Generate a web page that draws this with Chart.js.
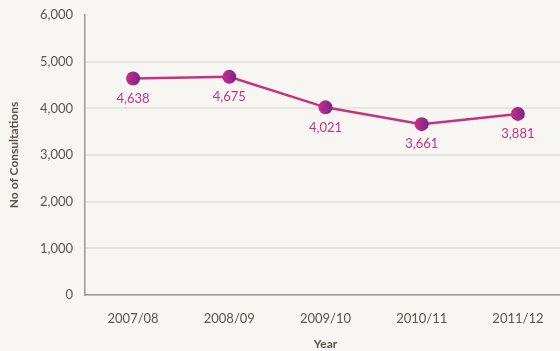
<!DOCTYPE html>
<html>
<head>
<meta charset="utf-8">
<script src="https://cdn.jsdelivr.net/npm/chart.js@4/dist/chart.umd.min.js"></script>
<style>
  html, body { margin: 0; padding: 0; background: #f7f6f2; overflow: hidden; }
  #wrap { width: 573px; height: 351px; }
</style>
</head>
<body>
<div id="wrap"><canvas id="consultChart" width="573" height="351"></canvas></div>
<script>
const years = ['2007/08', '2008/09', '2009/10', '2010/11', '2011/12'];
const consultations = [4638, 4675, 4021, 3661, 3881];
const yTicks = [0, 1000, 2000, 3000, 4000, 5000, 6000];

const lineColor = '#c7327f';
const textColor = '#5b5650';

// point fill: magenta on the left fading into purple on the right
function pointFill(ctx) {
    const chart = ctx.chart;
    const xs = chart.scales.x;
    if (!xs || ctx.dataIndex === undefined) return lineColor;
    const px = xs.getPixelForValue(ctx.dataIndex);
    if (!isFinite(px)) return lineColor;
    const g = chart.ctx.createLinearGradient(px - 7, 0, px + 7, 0);
    g.addColorStop(0, '#cc2c86');
    g.addColorStop(1, '#74268c');
    return g;
}

// value labels underneath each point
const valueLabels = {
    id: 'valueLabels',
    afterDatasetsDraw(chart) {
        const c = chart.ctx;
        const meta = chart.getDatasetMeta(0);
        c.save();
        c.font = '13px Lato, "Open Sans", sans-serif';
        c.fillStyle = lineColor;
        c.textAlign = 'center';
        c.textBaseline = 'middle';
        meta.data.forEach(function (pt, i) {
            c.fillText(consultations[i].toLocaleString('en-US'), pt.x, pt.y + 20);
        });
        c.restore();
    }
};

const ctxConsult = document.getElementById('consultChart').getContext('2d');
const consultChart = new Chart(ctxConsult, {
    type: 'line',
    data: {
        labels: years,
        datasets: [{
            label: 'No of Consultations',
            data: consultations,
            borderColor: lineColor,
            borderWidth: 2.5,
            pointRadius: 7,
            pointBorderWidth: 0,
            pointBackgroundColor: pointFill,
            tension: 0
        }]
    },
    options: {
        responsive: false,
        animation: false,
        layout: { padding: { top: 15, right: 0, left: 0, bottom: 0 } },
        scales: {
            x: {
                offset: true,
                grid: { display: false, drawTicks: false },
                border: { display: true, color: '#9c9a96', width: 1.5 },
                ticks: {
                    color: textColor,
                    padding: 16,
                    font: { family: 'Lato, "Open Sans", sans-serif', size: 13 }
                },
                title: {
                    display: true,
                    text: 'Year',
                    color: textColor,
                    padding: { top: 8, bottom: 0 },
                    font: { family: 'Lato, "Open Sans", sans-serif', size: 12, weight: 'bold' }
                },
                afterFit: function (scale) { scale.height = 56; }
            },
            y: {
                min: 0,
                max: 6000,
                afterBuildTicks: function (scale) {
                    scale.ticks = yTicks.map(function (v) { return { value: v }; });
                },
                grid: {
                    drawTicks: false,
                    lineWidth: 2,
                    color: function (ctx) {
                        return ctx.tick && ctx.tick.value === 6000 ? 'rgba(0,0,0,0)' : '#e7e5e0';
                    }
                },
                border: { display: true, color: '#9c9a96', width: 1.5 },
                ticks: {
                    color: textColor,
                    padding: 12,
                    font: { family: 'Lato, "Open Sans", sans-serif', size: 13 },
                    callback: function (v) { return Number(v).toLocaleString('en-US'); }
                },
                title: {
                    display: true,
                    text: 'No of Consultations',
                    color: textColor,
                    padding: { top: 7, bottom: 2 },
                    font: { family: 'Lato, "Open Sans", sans-serif', size: 12, weight: 'bold' }
                },
                afterFit: function (scale) {
                    scale.width = 85;
                    scale.paddingTop = 0;
                }
            }
        },
        plugins: {
            legend: { display: false },
            tooltip: { enabled: false }
        }
    },
    plugins: [valueLabels]
});
</script>
</body>
</html>
